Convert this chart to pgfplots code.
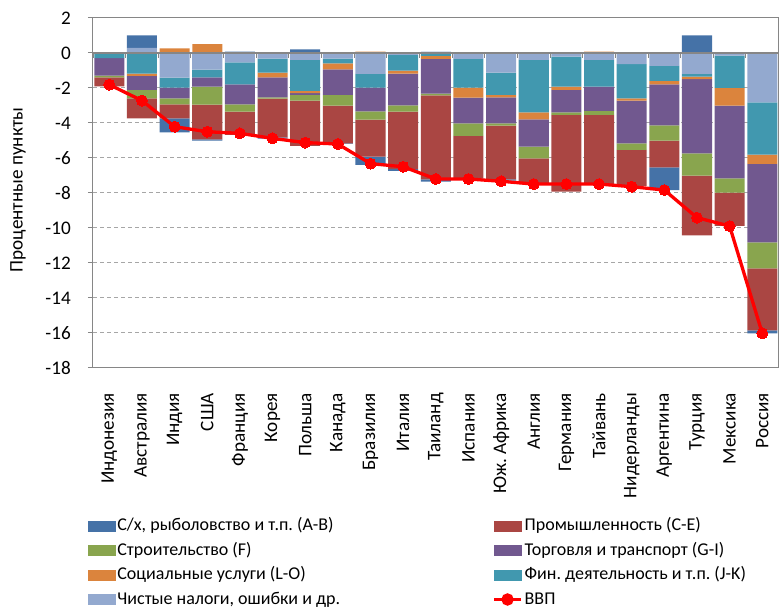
\documentclass[border=0pt]{standalone}
\usepackage{fontspec}
\setmainfont{Carlito}
\usepackage{pgfplots}
\usepackage{pgfplotstable}
\pgfplotsset{compat=1.18}
\frenchspacing

\definecolor{cAB}{HTML}{4572A7}
\definecolor{cCE}{HTML}{AA4643}
\definecolor{cF}{HTML}{89A54E}
\definecolor{cGI}{HTML}{71588F}
\definecolor{cJK}{HTML}{4198AF}
\definecolor{cLO}{HTML}{DB843D}
\definecolor{cTX}{HTML}{93A9CF}
\definecolor{cGDP}{HTML}{FF0000}
\definecolor{axgray}{HTML}{868686}
\definecolor{gridgray}{HTML}{A6A6A6}

% negative parts, stacked from 0 downward in this column order
\pgfplotstableread{
x  TX    JK    LO    GI    F     CE    AB
0  0     -0.30 0     -1.00 -0.10 -0.51 0
1  0     -1.18 -0.13 -0.80 -0.48 -1.14 0
2  -1.41 -0.57 0     -0.61 -0.34 -0.80 -0.80
3  -0.95 -0.44 0     -0.53 -1.03 -1.98 -0.08
4  -0.53 -1.26 0     -1.14 -0.42 -1.33 0
5  -0.32 -0.80 -0.27 -1.14 -0.08 -2.21 -0.08
6  -0.40 -1.77 -0.13 -0.10 -0.32 -2.59 0
7  -0.32 -0.27 -0.34 -1.47 -0.61 -2.15 -0.04
8  -1.20 -0.78 0     -1.35 -0.48 -2.11 -0.48
9  -0.11 -0.90 -0.17 -1.81 -0.36 -3.28 -0.11
10 0     -0.17 -0.17 -1.98 -0.10 -4.80 -0.13
11 -0.34 -1.64 -0.57 -1.47 -0.72 -2.42 -0.05
12 -1.12 -1.28 -0.13 -1.49 -0.13 -3.07 -0.08
13 -0.40 -2.99 -0.40 -1.56 -0.67 -1.48 0
14 -0.21 -1.71 -0.19 -1.28 -0.15 -4.38 0
15 -0.40 -1.52 0     -1.39 -0.23 -4.00 0
16 -0.63 -1.96 -0.13 -2.44 -0.38 -2.06 0
17 -0.74 -0.86 -0.19 -2.34 -0.88 -1.52 -1.30
18 -1.20 -0.15 -0.15 -4.23 -1.28 -3.41 0
19 -0.15 -1.85 -1.01 -4.15 -0.82 -1.90 0
20 -2.82 -2.99 -0.53 -4.48 -1.49 -3.54 -0.17
}\negdata

% positive parts, stacked from 0 upward
\pgfplotstableread{
x  TX   LO   AB
0  0    0    0
1  0.29 0    0.72
2  0    0.27 0
3  0    0.50 0
4  0    0    0.08
5  0    0    0
6  0    0    0.21
7  0    0    0
8  0    0.08 0
9  0    0    0
10 0.08 0    0
11 0    0    0
12 0    0    0
13 0    0    0
14 0    0    0
15 0    0.08 0
16 0    0    0
17 0    0    0
18 0    0    1.01
19 0    0    0
20 0    0    0
}\posdata

\pgfplotstableread{
x  GDP
0  -1.81
1  -2.72
2  -4.21
3  -4.50
4  -4.59
5  -4.88
6  -5.12
7  -5.20
8  -6.32
9  -6.50
10 -7.20
11 -7.20
12 -7.33
13 -7.49
14 -7.49
15 -7.49
16 -7.64
17 -7.83
18 -9.41
19 -9.89
20 -16.02
}\gdpdata

\pgfplotsset{
  base/.style={at={(93pt,242pt)}, anchor=south west, scale only axis,
    width=685.6pt, height=350pt, xmin=-0.5, xmax=20.5, ymin=-18, ymax=2},
}
\newcommand{\chfont}{\fontsize{19.2}{23}\selectfont}
\newcommand{\lgfont}{\fontsize{18}{22}\selectfont}
\newcommand{\ns}{\spaceskip=0pt\xspaceskip=0pt\relax}

\begin{document}
\begin{tikzpicture}
\path[use as bounding box] (0,0) rectangle (780pt,610pt);

\begin{axis}[base, ybar stacked, bar width=0.92,
  axis line style={axgray, line width=1pt},
  ytick={-18,-16,...,2}, ytick pos=left, tick align=outside,
  major tick length=5pt, ytick style={axgray, line width=1pt},
  ymajorgrids, major grid style={gridgray, dash pattern=on 4pt off 3pt, line width=1pt},
  xtick={0,...,20}, xtick pos=left, xtick style={draw=none},
  xticklabels={Индонезия, Австралия, Индия, США, Франция, Корея, Польша, Канада, Бразилия, Италия, Таиланд, Испания, Юж. Африка, Англия, Германия, Тайвань, Нидерланды, Аргентина, Турция, Мексика, Россия},
  xticklabel style={rotate=90, anchor=east, inner sep=0pt},
  xticklabel shift=20pt,
  yticklabel style={inner sep=0pt, anchor=east},
  yticklabel shift=17pt,
  tick label style={font=\chfont},
  /pgf/number format/assume math mode=true,
  ylabel={Процентные пункты},
  ylabel style={at={(axis description cs:-0.1094,0.5086)}, anchor=center, font=\chfont},
]
\addplot[fill=cTX, draw=none] table[x=x,y=TX]{\negdata};
\addplot[fill=cJK, draw=none] table[x=x,y=JK]{\negdata};
\addplot[fill=cLO, draw=none] table[x=x,y=LO]{\negdata};
\addplot[fill=cGI, draw=none] table[x=x,y=GI]{\negdata};
\addplot[fill=cF,  draw=none] table[x=x,y=F]{\negdata};
\addplot[fill=cCE, draw=none] table[x=x,y=CE]{\negdata};
\addplot[fill=cAB, draw=none] table[x=x,y=AB]{\negdata};
\end{axis}

\begin{axis}[base, ybar stacked, bar width=0.92, hide axis]
\addplot[fill=cTX, draw=none] table[x=x,y=TX]{\posdata};
\addplot[fill=cLO, draw=none] table[x=x,y=LO]{\posdata};
\addplot[fill=cAB, draw=none] table[x=x,y=AB]{\posdata};
\end{axis}

\begin{axis}[base, hide axis,
  legend columns=2,
  legend cell align=left,
  legend style={at={(axis description cs:-0.0073,-0.4257)}, anchor=north west,
    draw=none, fill=none, inner sep=0pt, outer sep=0pt, row sep=6.5pt,
    font=\lgfont,
    nodes={inner sep=0pt, text height=14pt, text depth=4pt, text width=360pt, align=left},
    /tikz/column 1/.style={column sep=2pt},
    /tikz/column 2/.style={column sep=15pt},
    /tikz/column 3/.style={column sep=2pt}},
]
\draw[axgray, line width=1.2pt] (axis cs:-0.5,0) -- (axis cs:20.5,0);
\pgfplotsinvokeforeach{-0.5,0.5,...,20.5}{\draw[axgray, line width=1pt] (axis cs:#1,0) -- ++(0pt,-5pt);}
\addlegendimage{legend image code/.code={\fill[cAB] (0pt,-5pt) rectangle (27pt,5pt);}}
\addlegendentry{\ns С/х, рыболовство и т.п. (A-B)}
\addlegendimage{legend image code/.code={\fill[cCE] (0pt,-5pt) rectangle (27pt,5pt);}}
\addlegendentry{\ns Промышленность (C-E)}
\addlegendimage{legend image code/.code={\fill[cF] (0pt,-5pt) rectangle (27pt,5pt);}}
\addlegendentry{\ns Строительство (F)}
\addlegendimage{legend image code/.code={\fill[cGI] (0pt,-5pt) rectangle (27pt,5pt);}}
\addlegendentry{\ns Торговля и транспорт (G-I)}
\addlegendimage{legend image code/.code={\fill[cLO] (0pt,-5pt) rectangle (27pt,5pt);}}
\addlegendentry{\ns Социальные услуги (L-O)}
\addlegendimage{legend image code/.code={\fill[cJK] (0pt,-5pt) rectangle (27pt,5pt);}}
\addlegendentry{\ns Фин. деятельность и т.п. (J-K)}
\addlegendimage{legend image code/.code={\fill[cTX] (0pt,-5pt) rectangle (27pt,5pt);}}
\addlegendentry{\ns Чистые налоги, ошибки и др.}
\addplot[cGDP, line width=3.3pt, mark=*, mark size=5.5pt,
  mark options={solid, fill=cGDP, draw=cGDP, line width=0pt},
  legend image code/.code={\draw[cGDP, line width=3.3pt] (0pt,0pt) -- (27pt,0pt); \fill[cGDP] (13.5pt,0pt) circle (4.5pt);}]
  table[x=x,y=GDP]{\gdpdata};
\addlegendentry{\ns ВВП}
\end{axis}
\end{tikzpicture}
\end{document}
